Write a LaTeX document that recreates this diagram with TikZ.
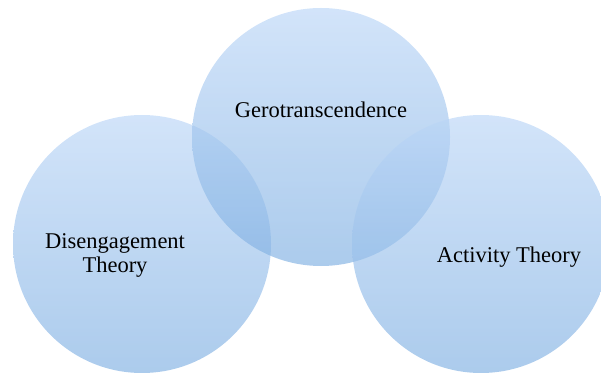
\documentclass[tikz,border=0pt]{standalone}
\usepackage{fontspec}
\setmainfont{Liberation Serif}
\usepackage{tikz}

\definecolor{ringtop}{RGB}{187,214,247}
\definecolor{ringbot}{RGB}{128,176,226}

\tikzset{
  ring/.style={circle, minimum size=258pt, inner sep=0pt, top color=ringtop, bottom color=ringbot, fill opacity=0.66, draw=none},
  lbl/.style={font=\fontsize{22.5}{24}\selectfont, align=center, text=black}
}

\begin{document}
\begin{tikzpicture}[x=1pt, y=1pt]
    \useasboundingbox (0,0) rectangle (601,372);
    \begin{scope}
    \clip (0,0) rectangle (601,372);
    \node[ring] (dis) at (142, 128) {};
    \node[ring] (ger) at (321, 235) {};
    \node[ring] (act) at (481, 128) {};
    \end{scope}
    \node[lbl, anchor=base] (gert) at (321, 254) {Gerotranscendence};
    \node[lbl] (dist) at (115, 117) {Disengagement\\Theory};
    \node[lbl, anchor=base] (actt) at (509, 110) {Activity Theory};
\end{tikzpicture}
\end{document}
